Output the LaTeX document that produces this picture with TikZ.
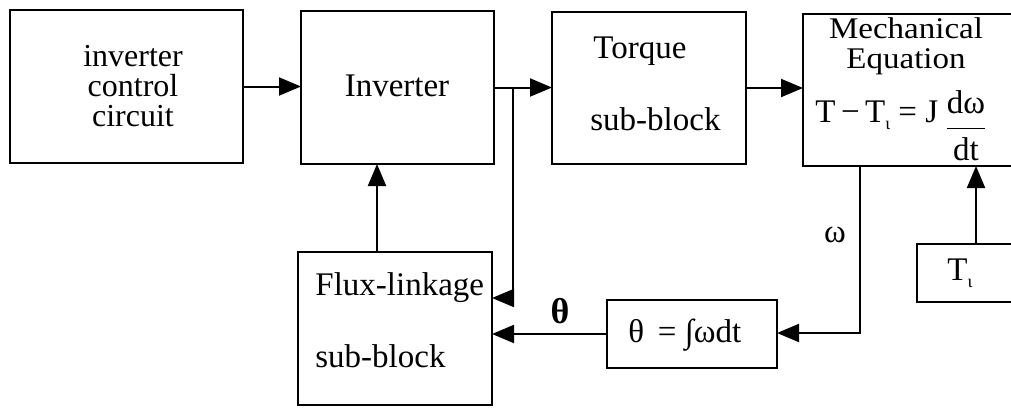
\documentclass[tikz,border=0pt]{standalone}
\usepackage{fontspec}
\setmainfont{Liberation Serif}
\usetikzlibrary{arrows.meta}
\begin{document}
\begin{tikzpicture}[x=0.5pt,y=-0.5pt,
  box/.style={draw,line width=1pt,rectangle,inner sep=0pt,outer sep=0pt},
  txt/.style={inner sep=0pt,font=\fontsize{16.5}{14.5}\selectfont},
  conn/.style={line width=1pt},
  arr/.style={line width=1pt,-{Triangle[length=11pt,width=9pt]}}]
\clip (0,0) rectangle (1011,407);
\fill[white] (0,0) rectangle (1011,407);
% boxes
\node[box,minimum width=116.5pt,minimum height=76.5pt] (cc) at (126.5,86.5) {};
\node[box,minimum width=96.5pt,minimum height=76.5pt] (inv) at (397.5,87.5) {};
\node[box,minimum width=97pt,minimum height=76pt] (tq) at (649,88) {};
\node[box,minimum width=108.5pt,minimum height=76pt] (mech) at (911.5,90) {};
\node[box,minimum width=97pt,minimum height=76.5pt] (flux) at (395,328.5) {};
\node[box,minimum width=85pt,minimum height=34pt] (th) at (692,334) {};
\node[box,minimum width=51.5pt,minimum height=29pt] (tl) at (968.5,273) {};
% texts
\node[txt,align=center,font=\fontsize{16}{15}\selectfont] (t1) at (133,86) {inverter\\control\\circuit};
\node[txt,anchor=base] (t4) at (397,96) {Inverter};
\node[txt,anchor=base west] (t5) at (593,58) {Torque};
\node[txt,anchor=base west] (t6) at (590,130) {sub-block};
\node[txt,anchor=base,font=\fontsize{15}{14}\selectfont] (t7) at (906,39) {\scalebox{1.1}[1]{Mechanical}};
\node[txt,anchor=base,font=\fontsize{15}{14}\selectfont] (t8) at (906,68) {\scalebox{1.1}[1]{Equation}};
\node[txt,anchor=base west] (t9) at (815,122) {T\,−\,T\raisebox{-0.5ex}{\small ι} = J};
\node[txt] (t9b) at (966,126) {$\displaystyle\frac{\mbox{dω}}{\mbox{dt}}$};
\node[txt,anchor=base west] (t10) at (315,295) {Flux-linkage};
\node[txt,anchor=base west] (t11) at (315,367) {sub-block};
\node[txt,anchor=base west] (t12) at (628,342) {θ\, = ∫ωdt};
\node[txt,anchor=base west] (t13) at (947,280) {T\raisebox{-0.5ex}{\small ι}};
\node[txt,font=\fontsize{18}{21}\selectfont\bfseries] (t14) at (560,311) {θ};
\node[txt] (t15) at (835,235) {ω};
% connectors
\coordinate (j) at (513,87.5);
\coordinate (j2) at (513,298);
\coordinate (xf) at (377,0);
\coordinate (wk) at (860,333);
\coordinate (xt) at (976,0);
\draw[arr] (cc.east) -- (cc.east -| inv.west);
\draw[arr] (inv.east) -- (inv.east -| tq.west);
\draw[arr] (j) -- (j2) -- (j2 -| flux.east);
\draw[arr] (flux.north -| xf) -- (inv.south -| xf);
\draw[arr] (tq.east) -- (tq.east -| mech.west);
\draw[arr] (mech.south -| wk) -- (wk) -- (wk -| th.east);
\draw[arr] (th.west) -- (th.west -| flux.east);
\draw[arr] (tl.north -| xt) -- (mech.south -| xt);
\end{tikzpicture}
\end{document}
